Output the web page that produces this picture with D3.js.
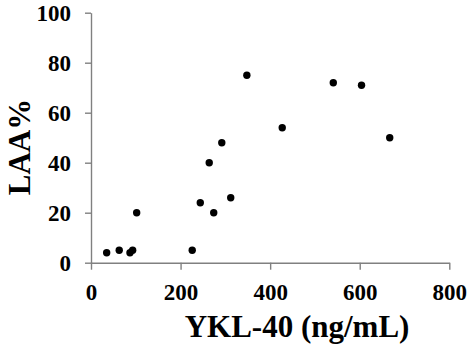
<!DOCTYPE html>
<html><head><meta charset="utf-8">
<script src="https://cdn.jsdelivr.net/npm/d3@7"></script>
<style>
html,body{margin:0;padding:0;background:#fff;}
svg{display:block;}
</style></head>
<body>
<script>
const ykl = [35, 63, 87, 93, 102, 226, 244, 264, 274, 292, 312, 348, 427, 541, 604, 667];
const laa = [4, 5, 4, 5, 20, 5, 24, 40, 20, 48, 26, 75, 54, 72, 71, 50];
const xTicks = [0, 200, 400, 600, 800];
const yTicks = [0, 20, 40, 60, 80, 100];
const xTitle = "YKL-40 (ng/mL)";
const yTitle = "LAA%";

const W = 474, H = 358;
const FONT = "'Liberation Serif', 'Times New Roman', serif";
const svg = d3.select("body").append("svg").attr("width", W).attr("height", H);

const x = d3.scaleLinear().domain([0, 800]).range([91, 449.3]);
const y = d3.scaleLinear().domain([0, 100]).range([262.7, 12.7]);

function styleAxis(g) {
  g.attr("font-family", FONT).attr("font-size", 23).attr("font-weight", "bold");
  g.selectAll("path, line").attr("stroke", "#808080").attr("stroke-width", 1.4);
  g.selectAll("text").style("font-family", FONT).style("font-weight", "bold")
    .style("font-size", "23px").attr("fill", "#000");
}

const gx = svg.append("g")
  .attr("transform", `translate(0,${y(0)})`)
  .call(d3.axisBottom(x).tickValues(xTicks).tickFormat(d3.format("d")).tickSize(7).tickSizeOuter(0).tickPadding(14));
styleAxis(gx);
const gy = svg.append("g")
  .attr("transform", `translate(${x(0)},0)`)
  .call(d3.axisLeft(y).tickValues(yTicks).tickFormat(d3.format("d")).tickSize(6).tickSizeOuter(0).tickPadding(14));
styleAxis(gy);

svg.append("g").selectAll("circle")
  .data(ykl.map((v, i) => [v, laa[i]]))
  .join("circle")
  .attr("cx", d => x(d[0]))
  .attr("cy", d => y(d[1]))
  .attr("r", 3.7)
  .attr("fill", "#000");

svg.append("text")
  .style("font-family", FONT).style("font-weight", "bold").style("font-size", "31px")
  .attr("x", 297).attr("y", 337)
  .attr("text-anchor", "middle")
  .text(xTitle);

svg.append("text")
  .style("font-family", FONT).style("font-weight", "bold").style("font-size", "31px")
  .attr("transform", "translate(30,147) rotate(-90)")
  .attr("text-anchor", "middle")
  .text(yTitle);
</script>
</body></html>
